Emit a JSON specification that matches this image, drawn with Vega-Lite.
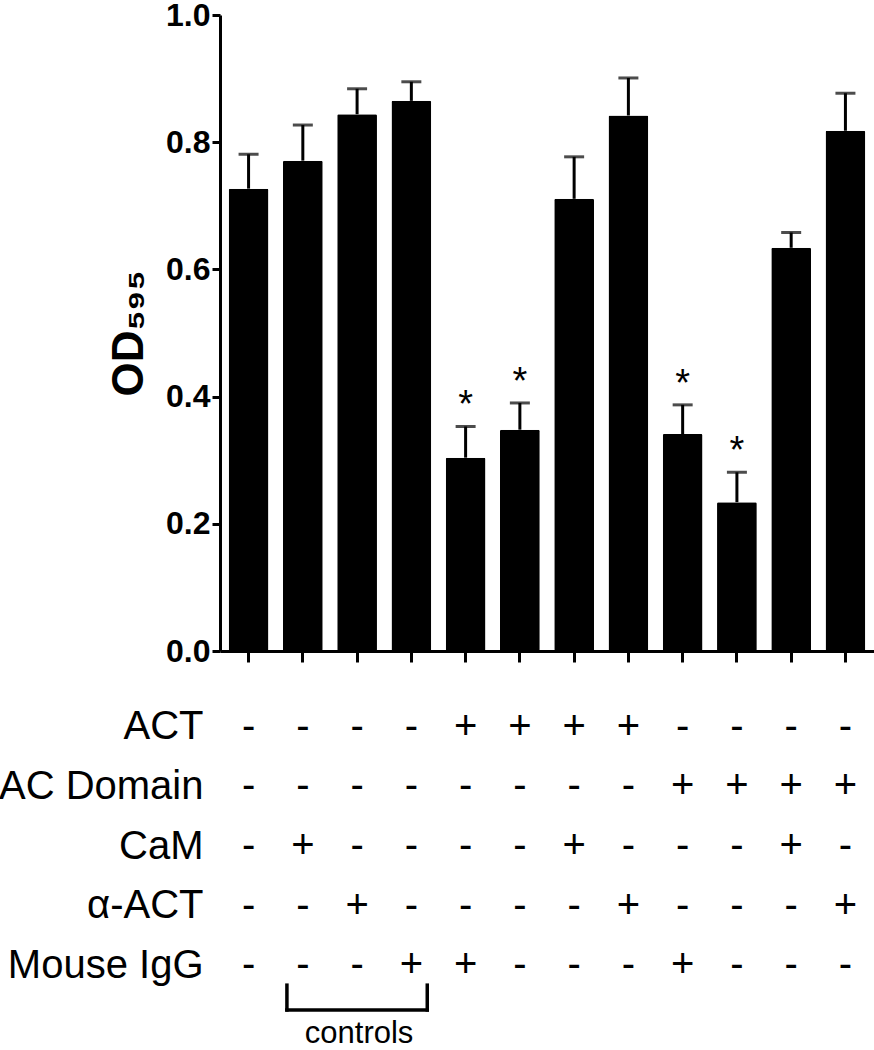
{
  "$schema": "https://vega.github.io/schema/vega-lite/v6.json",
  "autosize": {"type": "none"},
  "padding": {"left": 220, "top": 15, "right": 654, "bottom": 1035},
  "background": "white",
  "spacing": 0,
  "config": {"view": {"stroke": null}, "font": "Liberation Sans"},
  "datasets": {
    "bars": [
      {"lane": 1, "mean": 0.727, "upper": 0.781, "sig": false},
      {"lane": 2, "mean": 0.771, "upper": 0.827, "sig": false},
      {"lane": 3, "mean": 0.844, "upper": 0.884, "sig": false},
      {"lane": 4, "mean": 0.865, "upper": 0.895, "sig": false},
      {"lane": 5, "mean": 0.304, "upper": 0.353, "sig": true},
      {"lane": 6, "mean": 0.348, "upper": 0.390, "sig": true},
      {"lane": 7, "mean": 0.711, "upper": 0.777, "sig": false},
      {"lane": 8, "mean": 0.842, "upper": 0.901, "sig": false},
      {"lane": 9, "mean": 0.341, "upper": 0.387, "sig": true},
      {"lane": 10, "mean": 0.234, "upper": 0.281, "sig": true},
      {"lane": 11, "mean": 0.634, "upper": 0.658, "sig": false},
      {"lane": 12, "mean": 0.818, "upper": 0.877, "sig": false}
    ],
    "table": [
      {"lane": 1, "row": 1, "sign": "-"}, {"lane": 2, "row": 1, "sign": "-"}, {"lane": 3, "row": 1, "sign": "-"}, {"lane": 4, "row": 1, "sign": "-"},
      {"lane": 5, "row": 1, "sign": "+"}, {"lane": 6, "row": 1, "sign": "+"}, {"lane": 7, "row": 1, "sign": "+"}, {"lane": 8, "row": 1, "sign": "+"},
      {"lane": 9, "row": 1, "sign": "-"}, {"lane": 10, "row": 1, "sign": "-"}, {"lane": 11, "row": 1, "sign": "-"}, {"lane": 12, "row": 1, "sign": "-"},
      {"lane": 1, "row": 2, "sign": "-"}, {"lane": 2, "row": 2, "sign": "-"}, {"lane": 3, "row": 2, "sign": "-"}, {"lane": 4, "row": 2, "sign": "-"},
      {"lane": 5, "row": 2, "sign": "-"}, {"lane": 6, "row": 2, "sign": "-"}, {"lane": 7, "row": 2, "sign": "-"}, {"lane": 8, "row": 2, "sign": "-"},
      {"lane": 9, "row": 2, "sign": "+"}, {"lane": 10, "row": 2, "sign": "+"}, {"lane": 11, "row": 2, "sign": "+"}, {"lane": 12, "row": 2, "sign": "+"},
      {"lane": 1, "row": 3, "sign": "-"}, {"lane": 2, "row": 3, "sign": "+"}, {"lane": 3, "row": 3, "sign": "-"}, {"lane": 4, "row": 3, "sign": "-"},
      {"lane": 5, "row": 3, "sign": "-"}, {"lane": 6, "row": 3, "sign": "-"}, {"lane": 7, "row": 3, "sign": "+"}, {"lane": 8, "row": 3, "sign": "-"},
      {"lane": 9, "row": 3, "sign": "-"}, {"lane": 10, "row": 3, "sign": "-"}, {"lane": 11, "row": 3, "sign": "+"}, {"lane": 12, "row": 3, "sign": "-"},
      {"lane": 1, "row": 4, "sign": "-"}, {"lane": 2, "row": 4, "sign": "-"}, {"lane": 3, "row": 4, "sign": "+"}, {"lane": 4, "row": 4, "sign": "-"},
      {"lane": 5, "row": 4, "sign": "-"}, {"lane": 6, "row": 4, "sign": "-"}, {"lane": 7, "row": 4, "sign": "-"}, {"lane": 8, "row": 4, "sign": "+"},
      {"lane": 9, "row": 4, "sign": "-"}, {"lane": 10, "row": 4, "sign": "-"}, {"lane": 11, "row": 4, "sign": "-"}, {"lane": 12, "row": 4, "sign": "+"},
      {"lane": 1, "row": 5, "sign": "-"}, {"lane": 2, "row": 5, "sign": "-"}, {"lane": 3, "row": 5, "sign": "-"}, {"lane": 4, "row": 5, "sign": "+"},
      {"lane": 5, "row": 5, "sign": "+"}, {"lane": 6, "row": 5, "sign": "-"}, {"lane": 7, "row": 5, "sign": "-"}, {"lane": 8, "row": 5, "sign": "-"},
      {"lane": 9, "row": 5, "sign": "+"}, {"lane": 10, "row": 5, "sign": "-"}, {"lane": 11, "row": 5, "sign": "-"}, {"lane": 12, "row": 5, "sign": "-"}
    ],
    "bracket": [
      {"from": 2, "to": 4, "top": 5.33, "bottom": 5.745}
    ],
    "note": [
      {"lane": 3, "row": 6.3, "label": "controls"}
    ]
  },
  "vconcat": [
    {
      "width": 654,
      "height": 636,
      "data": {"name": "bars"},
      "encoding": {
        "x": {
          "field": "lane", "type": "ordinal",
          "scale": {"domain": [1,2,3,4,5,6,7,8,9,10,11,12], "paddingInner": 0.267, "paddingOuter": 0.16},
          "axis": {"labels": false, "title": null, "tickSize": 11, "tickWidth": 3, "tickColor": "black", "domainWidth": 3, "domainColor": "black", "grid": false}
        }
      },
      "layer": [
        {
          "mark": {"type": "bar", "color": "black", "cornerRadius": 1.5},
          "encoding": {
            "y": {
              "field": "mean", "type": "quantitative", "title": "OD₅₉₅",
              "scale": {"domain": [0, 1], "nice": false},
              "axis": {
                "values": [0, 0.2, 0.4, 0.6, 0.8, 1.0], "format": ".1f",
                "labelFont": "Liberation Sans", "labelFontWeight": "bold", "labelFontSize": 32, "labelColor": "black", "labelPadding": 2,
                "tickSize": 8, "tickWidth": 3, "tickColor": "black",
                "domainWidth": 3, "domainColor": "black", "grid": false,
                "titleFont": "Liberation Sans", "titleFontSize": 44, "titleFontWeight": "bold", "titleColor": "black", "titlePadding": 14
              }
            }
          }
        },
        {
          "mark": {"type": "rule", "color": "black", "strokeWidth": 3},
          "encoding": {
            "y": {"field": "mean", "type": "quantitative", "title": "OD₅₉₅"},
            "y2": {"field": "upper"}
          }
        },
        {
          "mark": {"type": "tick", "color": "black", "thickness": 3, "size": 20, "orient": "horizontal"},
          "encoding": {
            "y": {"field": "upper", "type": "quantitative", "title": "OD₅₉₅"}
          }
        },
        {
          "transform": [{"filter": "datum.sig"}],
          "mark": {"type": "text", "text": "*", "fontSize": 38, "baseline": "alphabetic", "dy": -9, "color": "black", "font": "Liberation Sans"},
          "encoding": {
            "y": {"field": "upper", "type": "quantitative", "title": "OD₅₉₅"}
          }
        }
      ]
    },
    {
      "width": 654,
      "height": 388,
      "layer": [
        {
          "data": {"name": "table"},
          "mark": {"type": "text", "fontSize": 40, "baseline": "middle", "color": "black", "font": "Liberation Sans"},
          "encoding": {
            "x": {
              "field": "lane", "type": "ordinal",
              "scale": {"domain": [1,2,3,4,5,6,7,8,9,10,11,12], "paddingInner": 0.267, "paddingOuter": 0.16},
              "axis": null
            },
            "y": {
              "field": "row", "type": "quantitative",
              "scale": {"domain": [0, 6.5], "reverse": true, "nice": false, "zero": false},
              "axis": {
                "values": [1, 2, 3, 4, 5],
                "labelExpr": "['', 'ACT', 'AC Domain', 'CaM', 'α-ACT', 'Mouse IgG'][datum.value]",
                "domain": false, "ticks": false, "tickSize": 0, "grid": false,
                "labelPadding": 17, "labelFontSize": 40, "labelFont": "Liberation Sans", "labelColor": "black", "labelLimit": 0,
                "title": null
              }
            },
            "text": {"field": "sign"}
          }
        },
        {
          "data": {"name": "bracket"},
          "mark": {"type": "rule", "color": "black", "strokeWidth": 3.5, "strokeCap": "square"},
          "encoding": {
            "x": {"field": "from", "type": "ordinal", "bandPosition": 0.1},
            "y": {"field": "top", "type": "quantitative"},
            "y2": {"field": "bottom"}
          }
        },
        {
          "data": {"name": "bracket"},
          "mark": {"type": "rule", "color": "black", "strokeWidth": 3.5, "strokeCap": "square"},
          "encoding": {
            "x": {"field": "to", "type": "ordinal", "bandPosition": 0.9},
            "y": {"field": "top", "type": "quantitative"},
            "y2": {"field": "bottom"}
          }
        },
        {
          "data": {"name": "bracket"},
          "mark": {"type": "rule", "color": "black", "strokeWidth": 3.5, "strokeCap": "square"},
          "encoding": {
            "x": {"field": "from", "type": "ordinal", "bandPosition": 0.1},
            "x2": {"field": "to", "bandPosition": 0.9},
            "y": {"field": "bottom", "type": "quantitative"}
          }
        },
        {
          "data": {"name": "note"},
          "mark": {"type": "text", "fontSize": 31, "baseline": "alphabetic", "align": "center", "color": "black", "font": "Liberation Sans"},
          "encoding": {
            "x": {"field": "lane", "type": "ordinal", "bandPosition": 0.55},
            "y": {"field": "row", "type": "quantitative"},
            "text": {"field": "label"}
          }
        }
      ]
    }
  ]
}
